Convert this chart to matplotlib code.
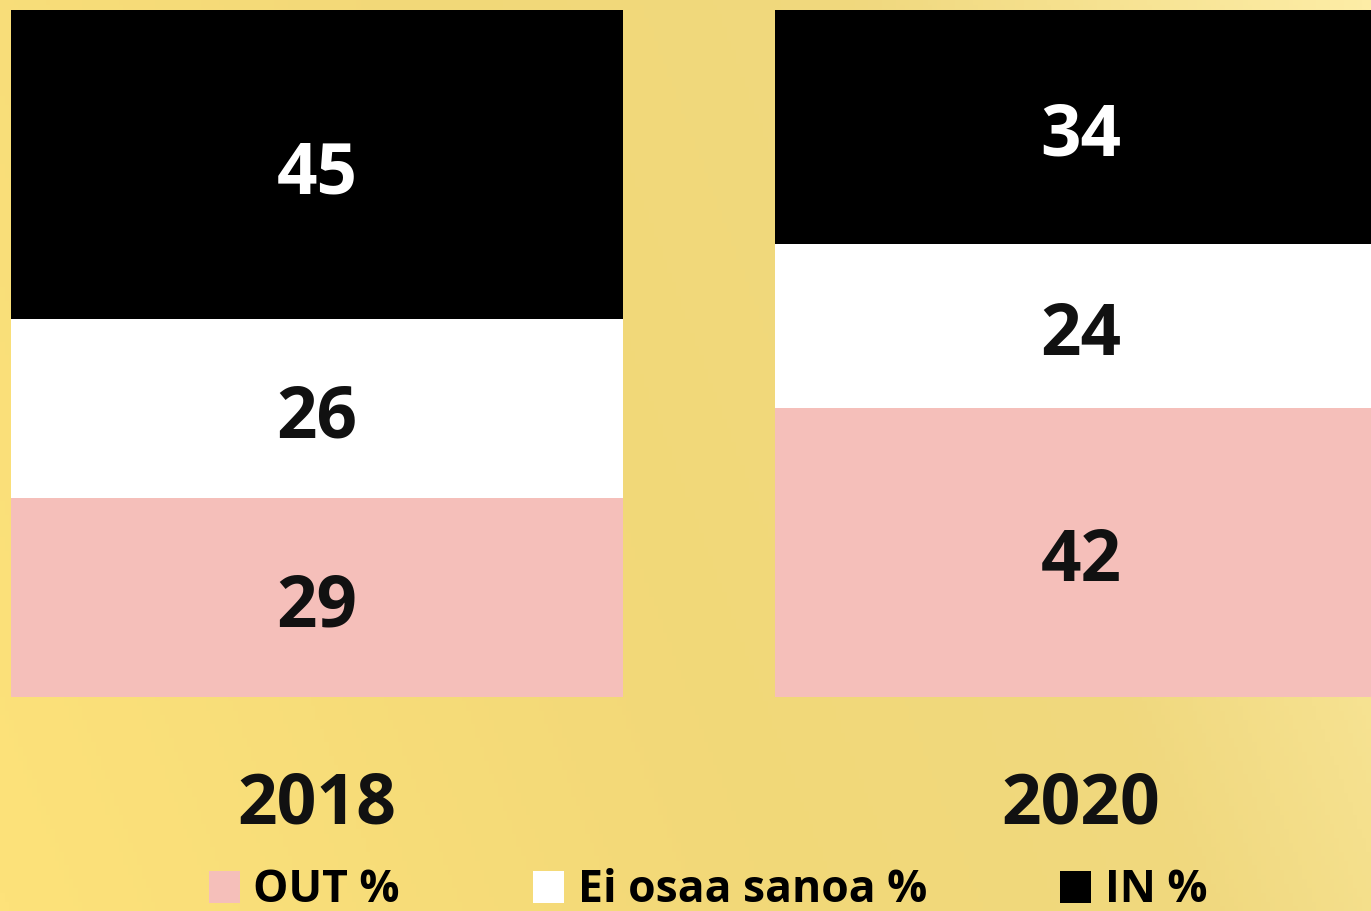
import numpy as np
import matplotlib
matplotlib.use("Agg")
import matplotlib.pyplot as plt
from matplotlib.colors import LinearSegmentedColormap

years = ["2018", "2020"]
out_pct = [29, 42]
ei_pct = [26, 24]
in_pct = [45, 34]
series_names = ["OUT %", "Ei osaa sanoa %", "IN %"]
series_colors = ["#F5BFBA", "#FFFFFF", "#000000"]
label_colors = ["#111111", "#111111", "#FFFFFF"]

plt.rcParams['font.family'] = ['Open Sans', 'DejaVu Sans']
plt.rcParams['font.weight'] = 'bold'

W, H = 1371, 911
fig = plt.figure(figsize=(W / 100, H / 100), dpi=100)

# background gradient (diagonal, yellow)
bg = fig.add_axes([0, 0, 1, 1], zorder=-1)
xx, yy = np.meshgrid(np.linspace(0, 1, 300), np.linspace(0, 1, 200))
t = 0.8 * xx + 0.2 * yy
cmap = LinearSegmentedColormap.from_list(
    "bg", [(0.0, "#FDE27A"), (0.45, "#F2D878"), (0.7, "#F0D87E"), (1.0, "#FDEDA6")])
bg.imshow(t, cmap=cmap, origin="lower", extent=[0, 1, 0, 1], aspect="auto", vmin=0, vmax=1)
bg.axis("off")

# main axes: bars from y=10 to y=697 px
ax = fig.add_axes([0, 1 - 697 / H, 1, (697 - 10) / H])
ax.patch.set_alpha(0)
x = np.arange(len(years))
width = 0.801
stacks = [out_pct, ei_pct, in_pct]
bottom = np.zeros(len(years))
for vals, name, col, lcol in zip(stacks, series_names, series_colors, label_colors):
    ax.bar(x, vals, width, bottom=bottom, color=col, label=name)
    for xi, b, v in zip(x, bottom, vals):
        ax.annotate(str(v), (xi, b + v / 2), xytext=(0, -7), textcoords="offset points",
                    ha="center", va="center", color=lcol, fontsize=51, fontweight="bold")
    bottom += np.array(vals)

ax.set_xlim(-317 / 764, (W - 317) / 764)
ax.set_ylim(0, 100)
ax.axis("off")

for i, yr in enumerate(years):
    fig.text((317 + 764 * i) / W, 1 - 806 / H, yr, ha="center", va="center",
             fontsize=50, fontweight="bold", color="#111111")

fig.legend(loc="center", bbox_to_anchor=(708 / W, 1 - 891 / H), ncol=3, frameon=False,
           handlelength=0.7, handleheight=0.7, handletextpad=0.3,
           columnspacing=3.0, borderaxespad=0, prop={"weight": "bold", "size": 32})

fig.savefig("out.png", dpi=100)
